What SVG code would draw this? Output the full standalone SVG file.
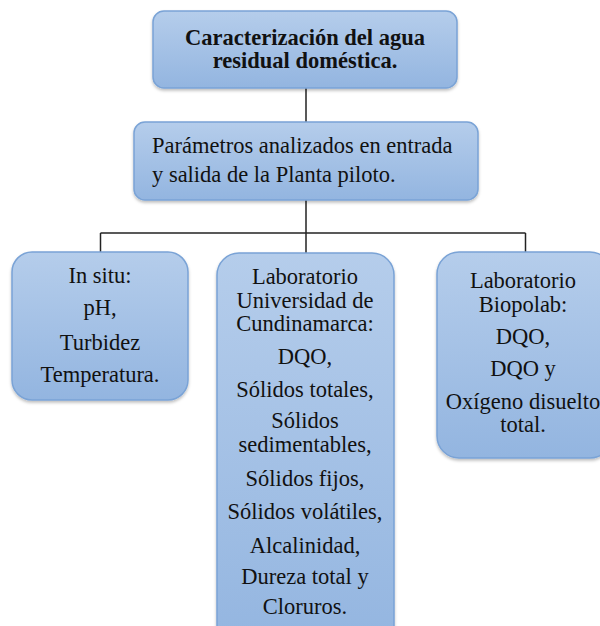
<svg xmlns="http://www.w3.org/2000/svg" width="600" height="626" viewBox="0 0 600 626">
<style>
.box{fill:url(#g);stroke:#7aa3d6;stroke-width:1.5;filter:url(#sh)}
.c{stroke:#222;stroke-width:1.5;fill:none}
text{font-family:'Liberation Serif',serif;font-size:22.5px;fill:#111;text-anchor:middle}
</style>
<defs>
<linearGradient id="g" x1="0" y1="0" x2="0" y2="1">
<stop offset="0" stop-color="#b5cdeb"/>
<stop offset="1" stop-color="#93b5e0"/>
</linearGradient>
<filter id="sh" x="-10%" y="-10%" width="120%" height="130%">
<feDropShadow dx="0" dy="2" stdDeviation="1.5" flood-color="#000" flood-opacity="0.25"/>
</filter>
</defs>
<g id="connectors">
<line class="c" x1="306" y1="88" x2="306" y2="122"/>
<line class="c" x1="306" y1="200" x2="306" y2="253"/>
<line class="c" x1="100.5" y1="233" x2="525.5" y2="233"/>
<line class="c" x1="100.5" y1="233" x2="100.5" y2="252"/>
<line class="c" x1="525.5" y1="233" x2="525.5" y2="252"/>
</g>
<g id="n-top">
<rect class="box" x="153" y="11" width="304" height="77" rx="11"/>
<text font-weight="bold" x="305" y="45">Caracterización del agua</text>
<text font-weight="bold" x="305" y="68">residual doméstica.</text>
</g>
<g id="n-param">
<rect class="box" x="134" y="122" width="344" height="78" rx="11"/>
<text style="text-anchor:start" x="152" y="153">Parámetros analizados en entrada</text>
<text style="text-anchor:start" x="152" y="182">y salida de la Planta piloto.</text>
</g>
<g id="n-insitu">
<rect class="box" x="12" y="252" width="176" height="148" rx="20"/>
<text x="100" y="283">In situ:</text>
<text x="100" y="315">pH,</text>
<text x="100" y="350">Turbidez</text>
<text x="100" y="382">Temperatura.</text>
</g>
<g id="n-udec">
<rect class="box" x="217" y="253" width="177" height="400" rx="22"/>
<text x="305" y="284">Laboratorio</text>
<text x="305" y="308">Universidad de</text>
<text x="305" y="331">Cundinamarca:</text>
<text x="305" y="364">DQO,</text>
<text x="305" y="397">Sólidos totales,</text>
<text x="305" y="428">Sólidos</text>
<text x="305" y="452">sedimentables,</text>
<text x="305" y="486">Sólidos fijos,</text>
<text x="305" y="519">Sólidos volátiles,</text>
<text x="305" y="553">Alcalinidad,</text>
<text x="305" y="584">Dureza total y</text>
<text x="305" y="614">Cloruros.</text>
</g>
<g id="n-biopolab">
<rect class="box" x="437" y="252" width="175" height="206" rx="22"/>
<text x="523" y="288">Laboratorio</text>
<text x="523" y="312">Biopolab:</text>
<text x="523" y="344">DQO,</text>
<text x="523" y="376">DQO y</text>
<text x="523" y="409">Oxígeno disuelto</text>
<text x="523" y="432">total.</text>
</g>
</svg>
